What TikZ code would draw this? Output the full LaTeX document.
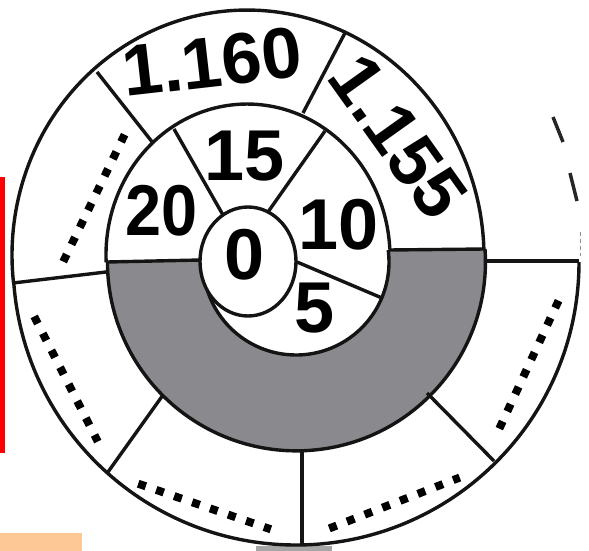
\documentclass[tikz,border=0pt]{standalone}
\usepackage{fontspec}
\setmainfont{Liberation Sans}
\definecolor{ringgray}{RGB}{138,138,142}
\definecolor{peach}{RGB}{253,200,150}
\begin{document}
\begin{tikzpicture}[x=1pt,y=-1pt,line join=round,
  edge/.style={line width=3.4pt, draw=black!92},
  dotline/.style={line width=8pt, draw=black, dash pattern=on 8pt off 11pt, shorten <=-4pt, shorten >=-4pt},
  remnant/.style={line width=3.5pt, draw=black!85},
  lbl/.style={font=\fontsize{72}{72}\selectfont\bfseries, inner sep=0pt, text=black}]
\useasboundingbox (0,0) rectangle (589,551);
\fill[white] (0,0) rectangle (589,551);
% side marks
\fill[red] (0,177) rectangle (4.5,453);
\fill[peach] (0,533) rectangle (82,551);
\fill[black!35] (256,546) rectangle (332,551);
% gray half ring
\fill[ringgray] (107,262) -- (201,260) -- (203,262) arc[start angle=180, end angle=-7.4, radius=93]
  -- (485,249) arc[start angle=-3.9, end angle=180, radius=189] -- cycle;
% lower figure outlines
\draw[edge] (579,262) arc[start angle=0, end angle=175.74, radius=283];
\draw[edge] (485,249) arc[start angle=-3.9, end angle=180, radius=189];
\draw[edge] (203,262) arc[start angle=180, end angle=-7.4, radius=93];
\draw[edge] (107,262) -- (201,260);
\draw[edge] (389,250) -- (485,249);
\draw[edge] (485,261) -- (579,261);
\draw[edge] (13,283) -- (106,272);
\draw[edge] (163,395) -- (108,472);
\draw[edge] (302,451) -- (302,545);
\draw[edge] (427,393) -- (494,461);
% upper figure outlines
\begin{scope}[shift={(248,256)}, rotate=2.6]
  \draw[edge] plot[domain=176.2:360.9, samples=90, smooth] ({236*cos(\x)},{246*sin(\x)});
  \draw[edge] plot[domain=180:360, samples=80, smooth] ({142*cos(\x)},{152*sin(\x)});
\end{scope}
\draw[edge] (97,72) -- (153,143);
\draw[edge] (303,113) -- (346,31);
\draw[edge] (174,129) -- (223,215);
\draw[edge] (325,131) -- (268,212);
\draw[edge] (297,262) -- (382,298);
% centre
\draw[edge, fill=white] (248,261.5) ellipse[x radius=48, y radius=54.5];
% dotted marks
\draw[dotline] (65,258) -- (123,138);
\draw[dotline] (36,320) -- (96,438);
\draw[dotline] (142,485) -- (267,528);
\draw[dotline] (333,527) -- (456,479);
\draw[dotline] (501,425) -- (557,304);
% remnants of erased outer arc
\draw[remnant] (553,117) -- (563,142);
\draw[remnant] (570,173) -- (577,201);
\draw[line width=1pt, draw=black!45, dash pattern=on 4pt off 3pt] (580,232) -- (580,256);
% labels
\node[lbl, rotate=6.5] (t1160) at (212,62) {1.160};
\node[lbl, rotate=-54.5] (t1155) at (398,137) {1.155};
\node[lbl] (t15) at (245,156) {15};
\node[lbl, xscale=0.9] (t20) at (161.5,210.5) {20};
\node[lbl] (t10) at (339,225) {10};
\node[lbl] (t0) at (245,255) {0};
\node[lbl] (t5) at (315,308) {5};
\end{tikzpicture}
\end{document}
